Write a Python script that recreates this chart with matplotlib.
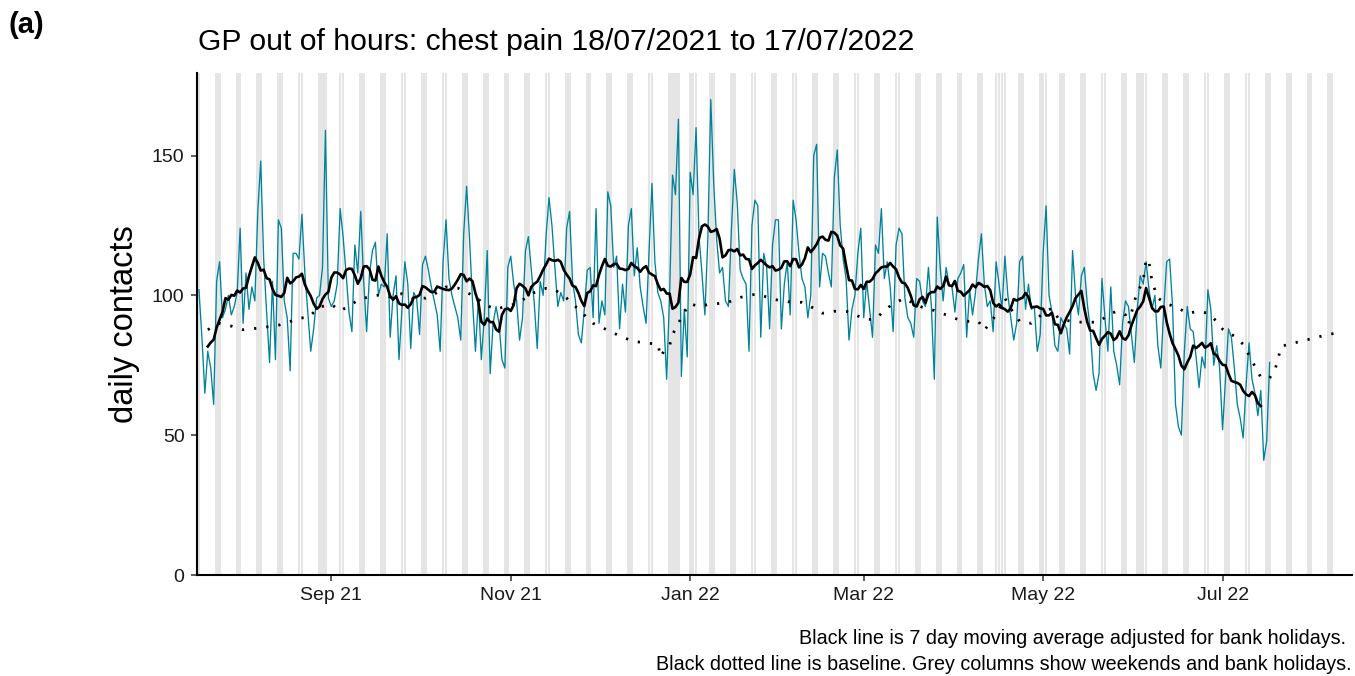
import matplotlib
matplotlib.use("Agg")
import matplotlib.pyplot as plt
import matplotlib.dates as mdates
import numpy as np
import pandas as pd

plt.rcParams['font.family'] = ['Liberation Sans', 'DejaVu Sans']

# daily GP out of hours contacts for chest pain, from 18/07/2021
start_date = '2021-07-18'
daily_contacts = [
    102, 85, 65, 80, 74, 61, 105, 112, 92, 95,
    100, 93, 96, 101, 124, 90, 108, 95, 103, 98,
    130, 148, 113, 94, 76, 105, 77, 127, 124, 98,
    92, 73, 115, 115, 113, 129, 108, 94, 80, 88,
    99, 100, 110, 159, 99, 96, 98, 104, 131, 121,
    108, 94, 87, 118, 108, 130, 105, 87, 108, 116,
    # Sep 16 ->
    119, 100, 104, 103, 122, 85, 100, 107, 77, 95,
    112, 104, 81, 101, 99, 86, 111, 114, 109, 103,
    98, 93, 80, 112, 127, 106, 100, 96, 92, 84,
    122, 139, 120, 98, 80, 99, 77, 92, 116, 72,
    90, 96, 90, 77, 74, 110, 114, 104, 98, 84,
    92, 116, 121, 109, 97, 81, 105, 100, 121, 135,
    125, 110,
    # Nov 17 ->
    96, 101, 98, 124, 130, 105, 98, 86, 83, 95,
    109, 110, 92, 131, 90, 98, 93, 137, 132, 110,
    114, 88, 104, 94, 125, 131, 107, 117, 103, 96,
    90, 115, 140, 112, 101, 98, 92, 70, 100, 143,
    136, 163, 71, 95, 78, 144, 136, 160, 121, 108,
    93, 120, 170, 140, 120, 108, 110, 98, 96, 123,
    145,
    # Jan 17 ->
    133, 109, 106, 104, 80, 125, 134, 132, 85, 115,
    110, 88, 118, 127, 127, 88, 104, 112, 93, 134,
    127, 115, 106, 103, 92, 100, 150, 154, 103, 115,
    114, 108, 103, 142, 152, 125, 113, 106, 84, 95,
    100, 115, 124, 92, 105, 95, 85, 118, 115, 131,
    106, 112, 103, 87, 118, 124, 122, 99, 92, 90,
    85,
    # Mar 19 ->
    106, 105, 98, 96, 110, 96, 70, 128, 110, 98,
    110, 104, 103, 94, 106, 108, 111, 85, 102, 93,
    101, 113, 122, 104, 96, 98, 87, 112, 104, 95,
    114, 100, 92, 84, 90, 112, 114, 95, 104, 95,
    96, 80, 86, 115, 132, 100, 94, 82, 80, 92,
    90, 88, 79, 116, 100, 93, 107, 110, 97, 88,
    72,
    # May 19 ->
    66, 72, 106, 92, 80, 103, 80, 75, 68, 90,
    98, 96, 86, 76, 95, 107, 104, 112, 102, 95,
    100, 82, 74, 95, 112, 113, 96, 61, 53, 50,
    80, 96, 88, 87, 78, 67, 78, 74, 102, 95,
    75, 82, 74, 52, 70, 88, 85, 74, 61, 56,
    49, 68, 83, 70, 65, 57, 66, 41, 48, 76,
]

bank_holidays = ['2021-08-30', '2021-12-27', '2021-12-28', '2022-01-03',
                 '2022-04-15', '2022-04-18', '2022-05-02', '2022-06-02',
                 '2022-06-03']

# baseline, days after start date
baseline_day = [3, 7, 11, 15, 18, 23, 26, 30, 34, 37, 41, 45, 48, 51, 54, 58,
                62, 65, 69, 73, 77, 81, 84, 88, 91, 94, 97, 101, 104, 108,
                111, 114, 118, 121, 125, 128, 131, 134, 137, 141, 144, 148,
                152, 156, 157, 158, 160, 161, 163, 165, 167, 170, 172, 176,
                180, 183, 187, 190, 194, 198, 202, 205, 209, 212, 216, 220,
                223, 227, 230, 233, 236, 240, 243, 246, 250, 254, 258, 261,
                265, 267, 271, 274, 275, 277, 279, 283, 287, 290, 292, 295,
                299, 302, 306, 309, 312, 315, 316, 317, 318, 319, 321, 322,
                323, 324, 326, 329, 333, 336, 340, 343, 346, 348, 352, 355,
                357, 359, 361, 364, 366, 367, 368, 372, 376, 380, 384, 388]
baseline_value = [87.7, 90, 89, 87.7, 88, 88.7, 89, 90.2, 91.9, 92, 95.8, 96.8,
                  94.4, 96.2, 98.2, 99.6, 100.2, 99.4, 100.6, 98.8, 99, 101,
                  103, 102.6, 101, 99.6, 96.7, 95, 96, 97, 99, 101, 102.5, 102,
                  99, 96, 93, 90, 88.5, 86.5, 85, 83.5, 83, 82.5, 78, 80, 82,
                  86, 90, 94, 97, 96, 96.5, 97, 97.5, 99, 100, 100.5, 99, 98,
                  97.5, 97.5, 95.4, 93.6, 94.3, 94.3, 93, 91.4, 91.4, 94.6, 97,
                  99, 97, 95.7, 94.6, 93, 91.4, 90.7, 90.7, 87.5, 93, 99, 97,
                  93.6, 90.7, 90, 93.6, 95.4, 92, 91, 90.4, 90.4, 90.4, 93,
                  94.3, 93, 89.6, 93.6, 97.9, 101, 105, 113, 111.8, 105, 99, 97,
                  95.4, 93.6, 94.3, 93.6, 90.7, 87.9, 85.4, 82.5, 78.6, 74.6,
                  70.7, 70.4, 74, 78, 81.8, 82.9, 83.9, 85, 86, 86.8]

y_ticks = [0, 50, 100, 150]

start = pd.Timestamp(start_date)
dates = pd.date_range(start, periods=len(daily_contacts), freq='D')
bh = pd.to_datetime(bank_holidays)
baseline_dates = start + pd.to_timedelta(baseline_day, unit='D')

# 7 day centred moving average, bank holidays left out of the window
s = pd.Series(daily_contacts, index=dates, dtype=float)
ma = s.mask(s.index.isin(bh)).rolling(7, center=True, min_periods=1).mean()
ma.iloc[:3] = np.nan
ma.iloc[-3:] = np.nan

x_left = start - pd.Timedelta(hours=16)
x_right = start + pd.Timedelta(days=392)
y_top = 179.5

# weekends and bank holidays up to the end of the baseline
all_days = pd.date_range(start, baseline_dates[-1], freq='D')
grey_days = all_days[(all_days.dayofweek >= 5) | all_days.isin(bh)]

W, H = 1355, 676
fig = plt.figure(figsize=(W / 100, H / 100), dpi=100)
ax = fig.add_axes([197 / W, 1 - 575 / H, (1352 - 197) / W, (575 - 73) / H])

ax.bar(grey_days, y_top, width=0.9, bottom=0, color='#E5E5E5', zorder=0)
ax.plot(dates, daily_contacts, color='#00829B', lw=0.95, zorder=2)
ax.plot(ma.index, ma.values, color='black', lw=1.9, zorder=3)
ax.plot(baseline_dates, baseline_value, color='black', lw=2.0,
        linestyle=(0, (0.8, 3.6)), zorder=4)

ax.set_xlim(x_left, x_right)
ax.set_ylim(0, y_top)
ax.set_yticks(y_ticks)
ax.xaxis.set_major_locator(mdates.MonthLocator(bymonth=[1, 3, 5, 7, 9, 11]))
ax.xaxis.set_major_formatter(mdates.DateFormatter('%b %y'))

for side in ['top', 'right']:
    ax.spines[side].set_visible(False)
for side in ['left', 'bottom']:
    ax.spines[side].set_linewidth(1.5)
    ax.spines[side].set_color('black')
ax.tick_params(axis='both', direction='out', length=4, width=1.1,
               color='#333333', labelsize=14, labelcolor='#1A1A1A', pad=5)

ax.set_ylabel('daily contacts', fontsize=23.5, va='center')
ax.yaxis.set_label_coords((125 - 197) / 1155, 0.5)

fig.text(198 / W, 1 - 42 / H, 'GP out of hours: chest pain 18/07/2021 to 17/07/2022',
         fontsize=21.7, ha='left', va='center')
fig.text(9 / W, 1 - 25 / H, '(a)', fontsize=21, fontweight='bold',
         ha='left', va='center')
fig.text(1346 / W, 1 - 638 / H,
         'Black line is 7 day moving average adjusted for bank holidays.',
         fontsize=14.2, ha='right', va='center')
fig.text(1352 / W, 1 - 664 / H,
         'Black dotted line is baseline. Grey columns show weekends and bank holidays.',
         fontsize=14.2, ha='right', va='center')

fig.savefig('out.png', dpi=100)
